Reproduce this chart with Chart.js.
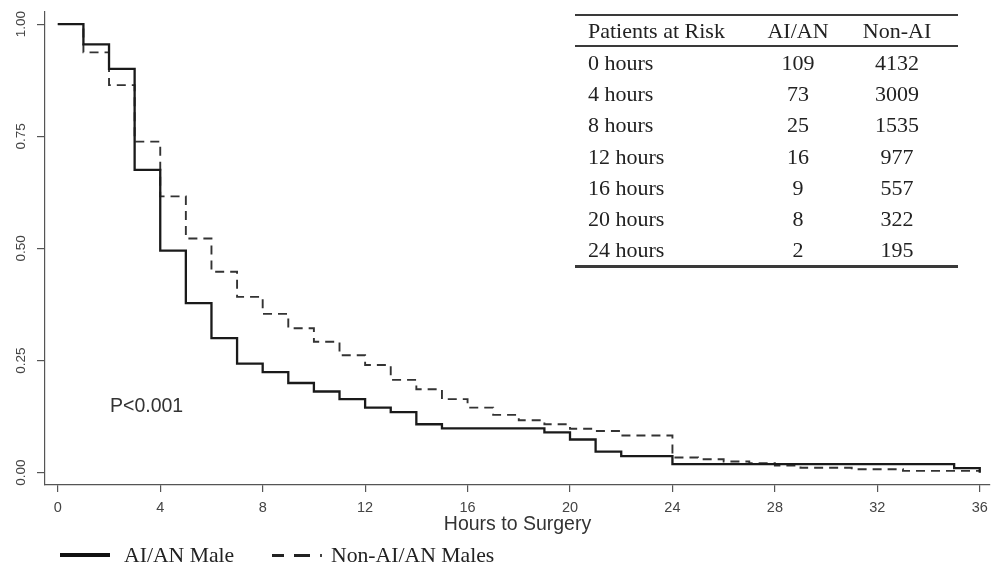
<!DOCTYPE html>
<html>
<head>
<meta charset="utf-8">
<script src="https://cdn.jsdelivr.net/npm/chart.js@4.4.0/dist/chart.umd.min.js"></script>
<style>
  html, body { margin: 0; padding: 0; background: #fff; }
  #wrap { position: relative; width: 1000px; height: 571px; overflow: hidden; background: #fff; }
  #c { position: absolute; left: 0; top: 0; }
  .serif { font-family: "Liberation Serif", "Times New Roman", serif; color: #222; }
  #risk { position: absolute; left: 575px; top: 14px; width: 383px; border-collapse: collapse; font-size: 22px; }
  #risk th, #risk td { padding: 0; font-weight: normal; white-space: nowrap; }
  #risk thead tr { height: 31px; }
  #risk thead th { border-top: 2.5px solid #3a3a3a; border-bottom: 2.5px solid #3a3a3a; }
  #risk tbody td { height: 31.2px; line-height: 31.2px; }
  #risk tbody tr:last-child td { border-bottom: 3px solid #3a3a3a; }
  #risk .c1 { width: 162px; text-align: left; padding-left: 13px; }
  #risk .c2 { width: 96px; text-align: center; }
  #risk .c3 { width: 102px; text-align: center; padding-right: 10px; }
  #pval { position: absolute; left: 110px; top: 394px; font-family: "Liberation Sans", Arial, sans-serif; font-size: 19.5px; color: #333; }
  .leg { position: absolute; font-size: 21.7px; line-height: 1; top: 545px; }
  .sw { position: absolute; background: #111; }
</style>
</head>
<body>
<div id="wrap">
  <canvas id="c" width="1000" height="571"></canvas>
  <div id="pval">P&lt;0.001</div>
  <table id="risk" class="serif">
    <thead><tr><th class="c1" id="h1"></th><th class="c2" id="h2"></th><th class="c3" id="h3"></th></tr></thead>
    <tbody id="riskBody"></tbody>
  </table>
  <div class="sw" style="left:60px; top:553px; width:50px; height:3.5px;"></div>
  <div class="leg serif" id="leg1" style="left:124px;"></div>
  <div class="sw" style="left:272px; top:554px; width:12px; height:2.6px; background:#222;"></div>
  <div class="sw" style="left:294px; top:554px; width:16px; height:2.6px; background:#222;"></div>
  <div class="sw" style="left:320px; top:554px; width:2px; height:2.6px; background:#444;"></div>
  <div class="leg serif" id="leg2" style="left:331px;"></div>
</div>
<script>
// ---- Data ----
const seriesNames = ["AI/AN Male", "Non-AI/AN Males"];

const hoursAI = [0, 1, 2, 3, 4, 5, 6, 7, 8, 9, 10, 11, 12, 13, 14, 15, 19, 20, 21, 22, 24, 35, 36];
const survAI  = [1.00, 0.955, 0.900, 0.675, 0.495, 0.378, 0.300, 0.243, 0.224, 0.200, 0.181, 0.164, 0.145, 0.135, 0.108, 0.099, 0.090, 0.074, 0.047, 0.037, 0.019, 0.010, 0.0];

const hoursNon = [0, 1, 2, 3, 4, 5, 6, 7, 8, 9, 10, 11, 12, 13, 14, 15, 16, 17, 18, 19, 20, 21, 22, 24, 25, 26, 27, 28, 29, 31, 33, 36];
const survNon  = [1.00, 0.937, 0.864, 0.738, 0.616, 0.522, 0.448, 0.392, 0.354, 0.322, 0.292, 0.262, 0.240, 0.207, 0.186, 0.164, 0.145, 0.129, 0.117, 0.108, 0.098, 0.093, 0.083, 0.034, 0.030, 0.025, 0.021, 0.016, 0.011, 0.0076, 0.004, 0.004];

const xTicks = [0, 4, 8, 12, 16, 20, 24, 28, 32, 36];
const yTicks = [0, 0.25, 0.5, 0.75, 1.0];

const riskHeader = ["Patients at Risk", "AI/AN", "Non-AI"];
const riskTimes  = ["0 hours", "4 hours", "8 hours", "12 hours", "16 hours", "20 hours", "24 hours"];
const riskAI     = [109, 73, 25, 16, 9, 8, 2];
const riskNon    = [4132, 3009, 1535, 977, 557, 322, 195];

const xTitle = "Hours to Surgery";

// ---- Table & legend text ----
document.getElementById('h1').textContent = riskHeader[0];
document.getElementById('h2').textContent = riskHeader[1];
document.getElementById('h3').textContent = riskHeader[2];
const tb = document.getElementById('riskBody');
riskTimes.forEach((t, i) => {
  const tr = document.createElement('tr');
  [[t, 'c1'], [riskAI[i], 'c2'], [riskNon[i], 'c3']].forEach(([v, cls]) => {
    const td = document.createElement('td'); td.className = cls; td.textContent = v; tr.appendChild(td);
  });
  tb.appendChild(tr);
});
document.getElementById('leg1').textContent = seriesNames[0];
document.getElementById('leg2').textContent = seriesNames[1];

// ---- Chart ----
const toXY = (xs, ys) => xs.map((x, i) => ({x: x, y: ys[i]}));
const tickFont = {family: "'Liberation Sans', Arial, sans-serif", size: 14.5};

new Chart(document.getElementById('c'), {
  type: 'line',
  data: {
    datasets: [
      {label: seriesNames[0], data: toXY(hoursAI, survAI), stepped: 'before',
       borderColor: '#1a1a1a', borderWidth: 2.3, pointRadius: 0, fill: false, order: 0},
      {label: seriesNames[1], data: toXY(hoursNon, survNon), stepped: 'before',
       borderColor: '#333', borderWidth: 1.9, borderDash: [9, 6], pointRadius: 0, fill: false, order: 1}
    ]
  },
  options: {
    responsive: false,
    animation: false,
    layout: {padding: {top: 12, right: 10, left: 0, bottom: 0}},
    plugins: {legend: {display: false}, tooltip: {enabled: false}},
    scales: {
      x: {
        type: 'linear', min: -0.5, max: 36.4,
        afterBuildTicks: s => { s.ticks = xTicks.map(v => ({value: v})); },
        afterFit: s => { s.height = 86; },
        ticks: {font: tickFont, color: '#444', padding: 7.5, minRotation: 0, maxRotation: 0, autoSkip: false},
        grid: {drawOnChartArea: false, drawTicks: true, tickLength: 7, color: '#555', lineWidth: 1.2},
        border: {display: true, color: '#555', width: 1.2},
        title: {display: true, text: xTitle, color: '#333',
                font: {family: "'Liberation Sans', Arial, sans-serif", size: 19.5, lineHeight: 1.2}, padding: {top: 0, bottom: 34.5}}
      },
      y: {
        type: 'linear', min: -0.0274, max: 1.027,
        afterBuildTicks: s => { s.ticks = yTicks.map(v => ({value: v})); },
        afterFit: s => { s.width = 45; },
        ticks: {font: {family: "'Liberation Sans', Arial, sans-serif", size: 13.5}, color: '#444',
                minRotation: 90, maxRotation: 90, crossAlign: 'center', padding: 3,
                callback: v => Number(v).toFixed(2)},
        grid: {drawOnChartArea: false, drawTicks: true, tickLength: 8, color: '#555', lineWidth: 1.2},
        border: {display: true, color: '#555', width: 1.2}
      }
    }
  }
});
</script>
</body>
</html>
